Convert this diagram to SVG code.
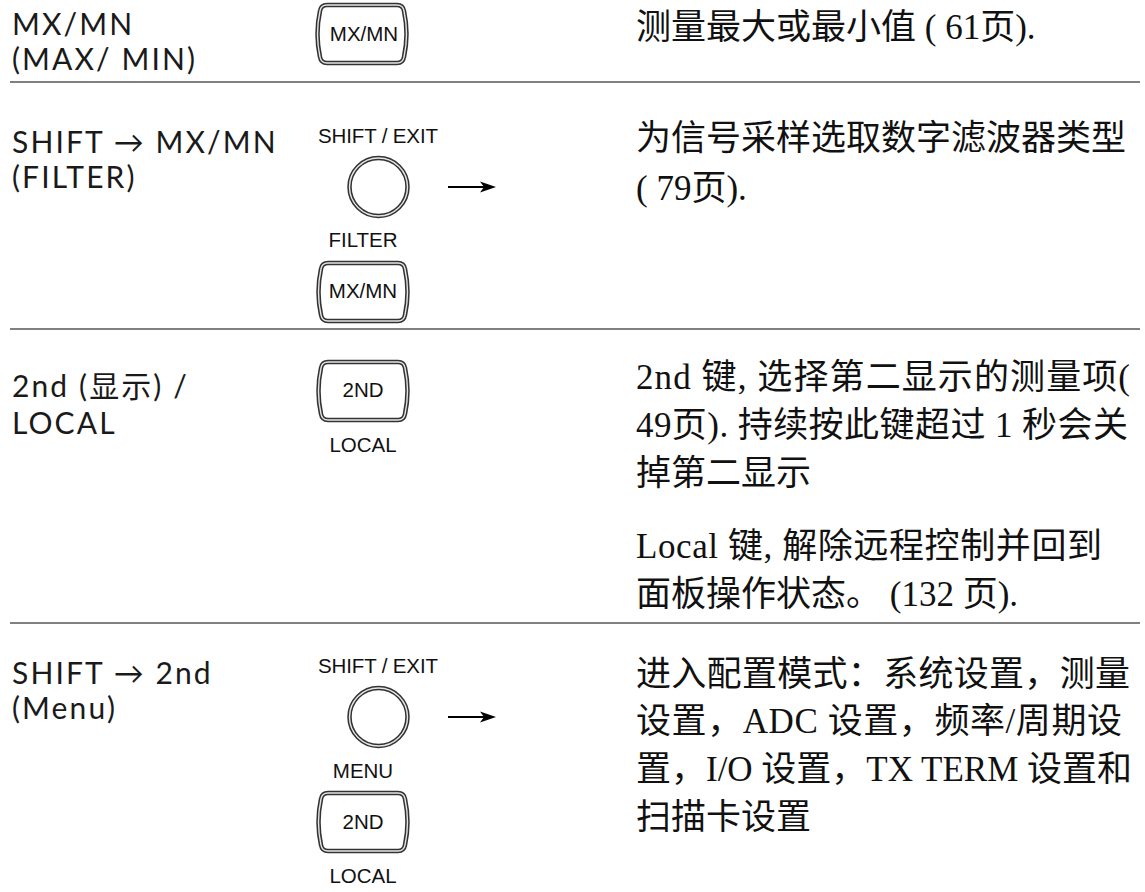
<svg xmlns="http://www.w3.org/2000/svg" xmlns:xlink="http://www.w3.org/1999/xlink" width="1145" height="892" viewBox="0 0 1145 892">
<style>
.lbl{font-family:Lato,"Noto Sans CJK SC",sans-serif;font-size:30px;letter-spacing:2.1px;fill:#1a1a1a}
.desc{font-family:"Liberation Serif","Noto Sans CJK SC",serif;font-size:35px;fill:#111}
.key{font-family:"Liberation Sans",Arial,sans-serif;font-size:20.5px;fill:#111;text-anchor:middle}
.sep{stroke:#808080;stroke-width:2}
.outer{fill:#fff;stroke:#333;stroke-width:4.5}
.inner{fill:none;stroke:#e6e6e6;stroke-width:1.4}
.arr{stroke:#000;stroke-width:2}
</style>
<defs>
<path id="kb" d="M -35,-29 H 35 Q 41,-29 42,-23 Q 47,0 42,23 Q 41,29 35,29 H -35 Q -41,29 -42,23 Q -47,0 -42,-23 Q -41,-29 -35,-29 Z"/>
<g id="keyshape"><use xlink:href="#kb" class="outer"/><use xlink:href="#kb" class="inner"/></g>
<g id="circ"><circle r="29" class="outer"/><circle r="29" class="inner"/></g>
</defs>
<rect width="1145" height="892" fill="#fff"/>
<g id="separators">
<line class="sep" x1="10" y1="82" x2="1140" y2="82"/>
<line class="sep" x1="10" y1="329" x2="1140" y2="329"/>
<line class="sep" x1="10" y1="623" x2="1140" y2="623"/>
</g>
<g id="row-mxmn">
<text class="lbl"><tspan x="12" y="35">MX/MN</tspan><tspan x="12" y="70">(MAX/ MIN)</tspan></text>
<use xlink:href="#keyshape" x="362" y="34"/>
<text class="key" x="364" y="41">MX/MN</text>
<text class="desc" x="636" y="39">测量最大或最小值 ( 61页).</text>
</g>
<g id="row-filter">
<text class="lbl"><tspan x="12" y="153">SHIFT → MX/MN</tspan><tspan x="12" y="188">(FILTER)</tspan></text>
<text class="key" x="378" y="143" textLength="120" lengthAdjust="spacing">SHIFT / EXIT</text>
<use xlink:href="#circ" x="378.5" y="187"/>
<text class="key" x="363" y="247">FILTER</text>
<use xlink:href="#keyshape" x="363" y="292"/>
<text class="key" x="363" y="298">MX/MN</text>
<text class="desc"><tspan x="636" y="150">为信号采样选取数字滤波器类型</tspan><tspan x="636" y="200">( 79页).</tspan></text>
</g>
<g id="row-2nd">
<text class="lbl"><tspan x="12" y="397">2nd (显示) /</tspan><tspan x="12" y="434">LOCAL</tspan></text>
<use xlink:href="#keyshape" x="363" y="391"/>
<text class="key" x="363" y="397">2ND</text>
<text class="key" x="363" y="452">LOCAL</text>
<text class="desc" x="636" y="389" textLength="494" lengthAdjust="spacing">2nd 键, 选择第二显示的测量项(</text>
<text class="desc" x="636" y="437" textLength="492" lengthAdjust="spacing">49页). 持续按此键超过 1 秒会关</text>
<text class="desc" x="636" y="485">掉第二显示</text>
<text class="desc" x="636" y="558" textLength="466" lengthAdjust="spacing">Local 键, 解除远程控制并回到</text>
<text class="desc" x="636" y="606">面板操作状态。 (132 页).</text>
</g>
<g id="row-menu">
<text class="lbl"><tspan x="12" y="684">SHIFT → 2nd</tspan><tspan x="12" y="719">(Menu)</tspan></text>
<text class="key" x="378" y="673" textLength="120" lengthAdjust="spacing">SHIFT / EXIT</text>
<use xlink:href="#circ" x="378.5" y="717"/>
<text class="key" x="363" y="778">MENU</text>
<use xlink:href="#keyshape" x="363" y="822"/>
<text class="key" x="363" y="829">2ND</text>
<text class="key" x="363" y="883">LOCAL</text>
<text class="desc" x="636" y="686" textLength="494" lengthAdjust="spacing">进入配置模式：系统设置，测量</text>
<text class="desc" x="636" y="733" textLength="486" lengthAdjust="spacing">设置，ADC 设置，频率/周期设</text>
<text class="desc" x="636" y="781" textLength="496" lengthAdjust="spacing">置，I/O 设置，TX TERM 设置和</text>
<text class="desc" x="636" y="829">扫描卡设置</text>
</g>
<g id="connectors">
<line class="arr" x1="448" y1="187" x2="486" y2="187"/>
<polygon points="496,187 480,181.5 484,187 480,192.5" fill="#000"/>
<line class="arr" x1="448" y1="717" x2="486" y2="717"/>
<polygon points="496,717 480,711.5 484,717 480,722.5" fill="#000"/>
</g>
</svg>
